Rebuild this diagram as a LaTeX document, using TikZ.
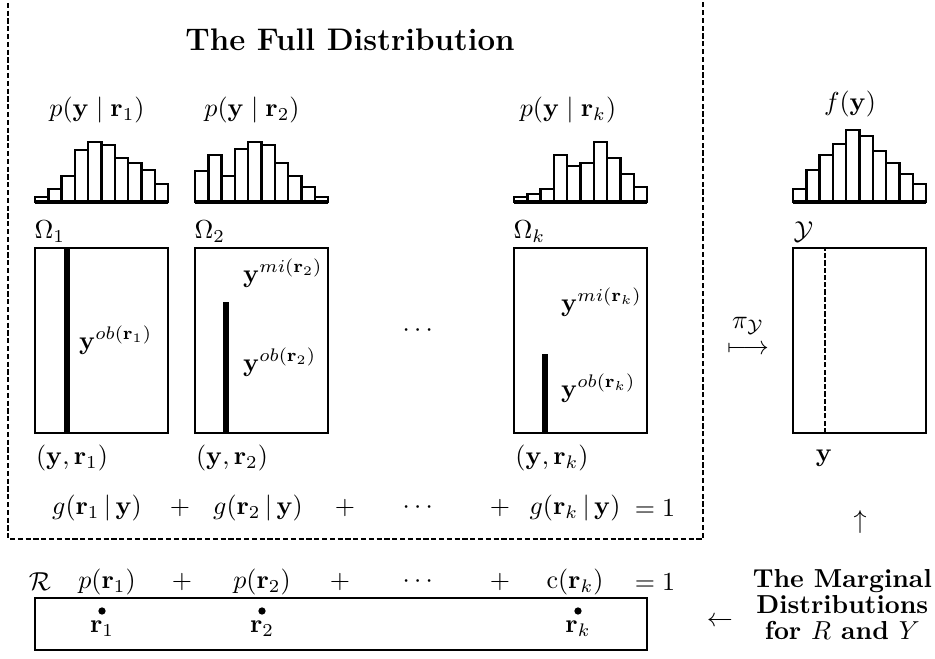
\documentclass[tikz,border=0pt]{standalone}
\usepackage{amsmath,amssymb}
\usepackage{tikz}
\usetikzlibrary{positioning}

% one histogram: left edge, list of bar heights
\newcommand{\histo}[2]{%
  \foreach \h [count=\i from 0] in {#2}
    \draw[histbar] ({#1+\i*13.33},202) rectangle ++(13.33,-\h);
  \draw[histbase] (#1,202) -- ++(133.3,0);
}

\begin{document}
\begin{tikzpicture}[x=0.3846pt, y=-0.3846pt,
          frame/.style={dash pattern=on 2pt off 1pt, line width=0.7pt},
          histbar/.style={line width=0.9pt},
          histbase/.style={line width=1.3pt},
          omega/.style={draw, line width=0.9pt},
          obs/.style={line width=2pt},
          dotn/.style={circle, fill, inner sep=0pt, minimum size=2.8pt},
          sumrow/.style={inner sep=1pt}
        ]
        \useasboundingbox (0,0) rectangle (935,659);
        \draw[frame] (8,-5) -- (8,539) -- (703,539) -- (703,-5);

        \node[font=\large\bfseries] (title) at (350,40) {The Full Distribution};

        % conditional distributions
        \node (py1) at (97,110) {$p(\mathbf{y}\mid\mathbf{r}_1)$};
        \node (py2) at (252,110) {$p(\mathbf{y}\mid\mathbf{r}_2)$};
        \node (pyk) at (568,110) {$p(\mathbf{y}\mid\mathbf{r}_k)$};
        \node (fy)  at (850,104) {$f(\mathbf{y})$};

        \histo{35}{5,13,26,52,60,57,44,39,32,18}
        \histo{195}{31,47,26,53,60,57,39,26,15,5}
        \histo{514}{5,8,13,47,36,39,60,44,28,15}
        \histo{793}{13,32,47,58,72,66,51,39,28,18}

        % the sample spaces
        \node[anchor=south west, inner sep=0pt] (om1) at (34,243) {$\Omega_1$};
        \node[anchor=south west, inner sep=0pt] (om2) at (194,243) {$\Omega_2$};
        \node[anchor=south west, inner sep=0pt] (omk) at (513,243) {$\Omega_k$};
        \node[anchor=south west, inner sep=0pt] (ycal) at (793,243) {$\mathcal{Y}$};

        \draw[omega] (35,248) rectangle (168,433);
        \draw[omega] (195,248) rectangle (328,433);
        \draw[omega] (514,248) rectangle (647,433);
        \draw[omega] (793,248) rectangle (926,433);

        \draw[obs] (67,433) -- (67,248);
        \draw[obs] (226,433) -- (226,302);
        \draw[obs] (545,433) -- (545,354);
        \draw[dash pattern=on 2pt off 0.8pt, line width=0.6pt] (825,433) -- (825,248);

        \node[anchor=west] (ob1) at (70,340) {$\mathbf{y}^{ob(\mathbf{r}_1)}$};
        \node[anchor=west] (mi2) at (234,273) {$\mathbf{y}^{mi(\mathbf{r}_2)}$};
        \node[anchor=west] (ob2) at (234,362) {$\mathbf{y}^{ob(\mathbf{r}_2)}$};
        \node[anchor=west] (mik) at (552,302) {$\mathbf{y}^{mi(\mathbf{r}_k)}$};
        \node[anchor=west] (obk) at (552,388) {$\mathbf{y}^{ob(\mathbf{r}_k)}$};
        \node (dots) at (420,331) {$\cdots$};
        \node[inner sep=1pt] (proj) at (748,350) {$\longmapsto$};
        \node[above=2pt of proj, inner sep=1pt] (projlbl) {$\pi_{\mathcal{Y}}$};

        \node (yr1) at (72,458) {$(\mathbf{y},\mathbf{r}_1)$};
        \node (yr2) at (232,458) {$(\mathbf{y},\mathbf{r}_2)$};
        \node (yrk) at (552,458) {$(\mathbf{y},\mathbf{r}_k)$};
        \node (yy)  at (824,458) {$\mathbf{y}$};

        % conditional probabilities of the patterns
        \node[sumrow] (g1) at (97,508) {$g(\mathbf{r}_1\,|\,\mathbf{y})$};
        \node[sumrow] at (180,508) {$+$};
        \node[sumrow] (g2) at (258,508) {$g(\mathbf{r}_2\,|\,\mathbf{y})$};
        \node[sumrow] at (345,508) {$+$};
        \node[sumrow] at (420,508) {$\cdots$};
        \node[sumrow] at (500,508) {$+$};
        \node[sumrow] (gk) at (575,508) {$g(\mathbf{r}_k\,|\,\mathbf{y})$};
        \node[sumrow] at (655,508) {$=1$};

        \node (up) at (860,522) {$\uparrow$};

        % marginal of the patterns
        \node[sumrow] (rcal) at (40,582) {$\mathcal{R}$};
        \node[sumrow] (pr1) at (107,582) {$p(\mathbf{r}_1)$};
        \node[sumrow] at (182,582) {$+$};
        \node[sumrow] (pr2) at (262,582) {$p(\mathbf{r}_2)$};
        \node[sumrow] at (340,582) {$+$};
        \node[sumrow] at (420,582) {$\cdots$};
        \node[sumrow] at (500,582) {$+$};
        \node[sumrow] (crk) at (575,582) {$\mathrm{c}(\mathbf{r}_k)$};
        \node[sumrow] at (655,582) {$=1$};

        \draw[omega] (35,598) rectangle (647,650);
        \node[dotn] (d1) at (102,611) {};
        \node[dotn] (d2) at (262,611) {};
        \node[dotn] (dk) at (578,611) {};
        \node[below=1.5pt of d1, inner sep=0.5pt] (r1) {$\mathbf{r}_1$};
        \node[below=1.5pt of d2, inner sep=0.5pt] (r2) {$\mathbf{r}_2$};
        \node[below=1.5pt of dk, inner sep=0.5pt] (rk) {$\mathbf{r}_k$};

        \node (left) at (720,622) {$\leftarrow$};
        \node[font=\bfseries, align=center, anchor=east] (marg) at (941,605)
              {The Marginal\\[-2pt]Distributions\\[-2pt]for $R$ and $Y$};
      \end{tikzpicture}
\end{document}
